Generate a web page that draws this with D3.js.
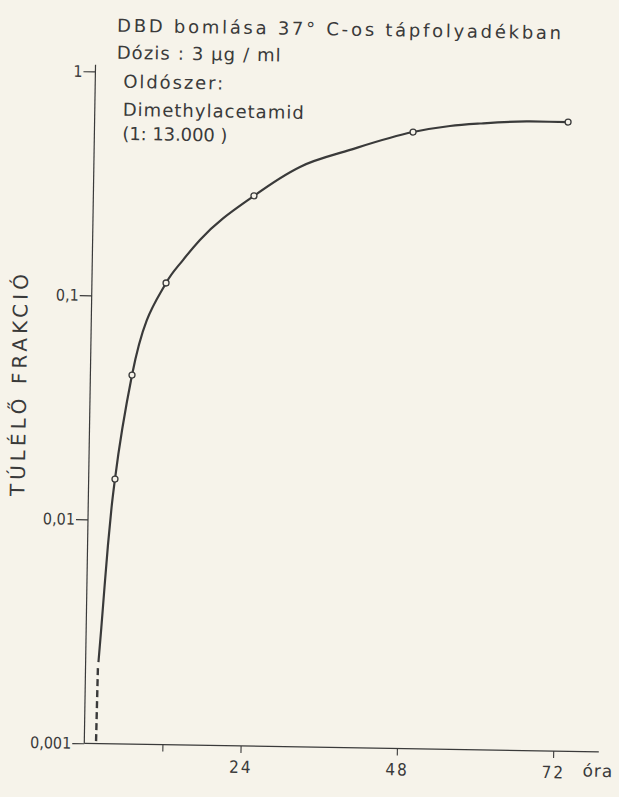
<!DOCTYPE html>
<html><head><meta charset="utf-8">
<script src="https://cdn.jsdelivr.net/npm/d3@7"></script>
<style>html,body{margin:0;padding:0;background:#f6f3ea;} svg{display:block}</style>
</head><body>
<svg id="chart" width="619" height="797"></svg>
<script>
// ---- data ----
const titleLines = ["DBD bomlása 37° C-os tápfolyadékban", "Dózis : 3 µg / ml", "Oldószer:", "Dimethylacetamid", "(1: 13.000 )"];
const yAxisTitle = "TÚLÉLŐ   FRAKCIÓ";
const xUnit = "óra";
const xTicks = [12, 24, 48, 72];
const xTickLabels = ["", "24", "48", "72"];
const yTicks = [1, 0.1, 0.01, 0.001];
const yTickLabels = ["1", "0,1", "0,01", "0,001"];
const pointHours = [4.04, 6.39, 11.38, 24.65, 48.91, 72.68];
const pointValues = [0.0152, 0.0444, 0.115, 0.286, 0.566, 0.644];
const curveHours = [1.97, 2.32, 2.70, 3.13, 3.58, 4.04, 6.39, 11.38, 13.92, 16.47, 24.65, 31.64, 39.29, 48.91, 54.56, 59.17, 66.83, 72.68];
const curveValues = [0.00231, 0.00328, 0.00495, 0.0077, 0.01128, 0.0152, 0.0444, 0.115, 0.146, 0.180, 0.286, 0.388, 0.466, 0.566, 0.606, 0.625, 0.644, 0.644];
const dashHours = [1.90, 1.80];
const dashValues = [0.00217, 0.001];

// ---- layout ----
const ink = "#3a3a3a";
const bg = "#f6f3ea";
const font = "'DejaVu Sans', 'Liberation Sans', sans-serif";
const fontNum = "'DejaVu Sans Condensed', 'DejaVu Sans', sans-serif";
const svg = d3.select("#chart");
svg.append("rect").attr("width", 619).attr("height", 797).attr("fill", bg);
const g = svg.append("g").attr("transform", "rotate(0.95,310,400)");

const x = d3.scaleLinear().domain([0, 79]).range([90, 604.6]);
const y = d3.scaleLog().domain([0.001, 1]).range([747, 75]);

// axes lines
g.append("line").attr("x1", x(0)).attr("x2", x(0)).attr("y1", y(0.001)).attr("y2", y(1.07))
  .attr("stroke", ink).attr("stroke-width", 1.2);
g.append("line").attr("x1", x(0)).attr("x2", x(79)).attr("y1", y(0.001)).attr("y2", y(0.001))
  .attr("stroke", ink).attr("stroke-width", 1.2);

// y axis ticks
const ya = g.append("g").attr("transform", `translate(${x(0)},0)`)
  .call(d3.axisLeft(y).tickValues(yTicks).tickFormat((d, i) => yTickLabels[i]).tickSize(12).tickPadding(1));
ya.select(".domain").remove();
ya.selectAll("line").attr("stroke", ink).attr("stroke-width", 1.1);
ya.selectAll("text").attr("fill", ink).style("font-family", fontNum).style("font-size", "16px");

// x axis ticks
const xa = g.append("g").attr("transform", `translate(0,${y(0.001)})`)
  .call(d3.axisBottom(x).tickValues(xTicks).tickFormat((d, i) => xTickLabels[i]).tickSize(7).tickPadding(8));
xa.select(".domain").remove();
xa.selectAll("line").attr("stroke", ink).attr("stroke-width", 1.1);
xa.selectAll("text").attr("fill", ink).style("font-family", fontNum).style("font-size", "17px").attr("letter-spacing", "2px");

g.append("text").text(xUnit).attr("x", x(79) - 16).attr("y", y(0.001) + 25)
  .attr("fill", ink).style("font-family", font).style("font-size", "17px").attr("letter-spacing", "1px");

// y axis title
g.append("text").text(yAxisTitle)
  .attr("transform", "translate(26,390) rotate(-90)")
  .attr("text-anchor", "middle").attr("textLength", 222).attr("lengthAdjust", "spacing")
  .attr("fill", ink).style("font-family", font).style("font-size", "20px");

// title block
const titlePos = [[111, 35, 444], [111, 62, 164], [118, 91, 100], [118, 119, 181], [118, 143, 105]];
titleLines.forEach((t, i) => {
  g.append("text").text(t).attr("x", titlePos[i][0]).attr("y", titlePos[i][1])
    .attr("textLength", titlePos[i][2]).attr("lengthAdjust", "spacing")
    .attr("fill", ink).style("font-family", font).style("font-size", "18px");
});

// curve
const curveData = curveHours.map((h, i) => [h, curveValues[i]]);
const line = d3.line().x(d => x(d[0])).y(d => y(d[1])).curve(d3.curveMonotoneX);
g.append("path").attr("d", line(curveData)).attr("fill", "none").attr("stroke", ink).attr("stroke-width", 2.2);

const dashData = dashHours.map((h, i) => [h, dashValues[i]]);
g.append("path").attr("d", d3.line().x(d => x(d[0])).y(d => y(d[1]))(dashData))
  .attr("fill", "none").attr("stroke", ink).attr("stroke-width", 2.4).attr("stroke-dasharray", "7,4");

// points
g.selectAll("circle.pt").data(pointHours).enter().append("circle").attr("class", "pt")
  .attr("cx", d => x(d)).attr("cy", (d, i) => y(pointValues[i])).attr("r", 3)
  .attr("fill", bg).attr("stroke", ink).attr("stroke-width", 1.3);
</script>
</body></html>
